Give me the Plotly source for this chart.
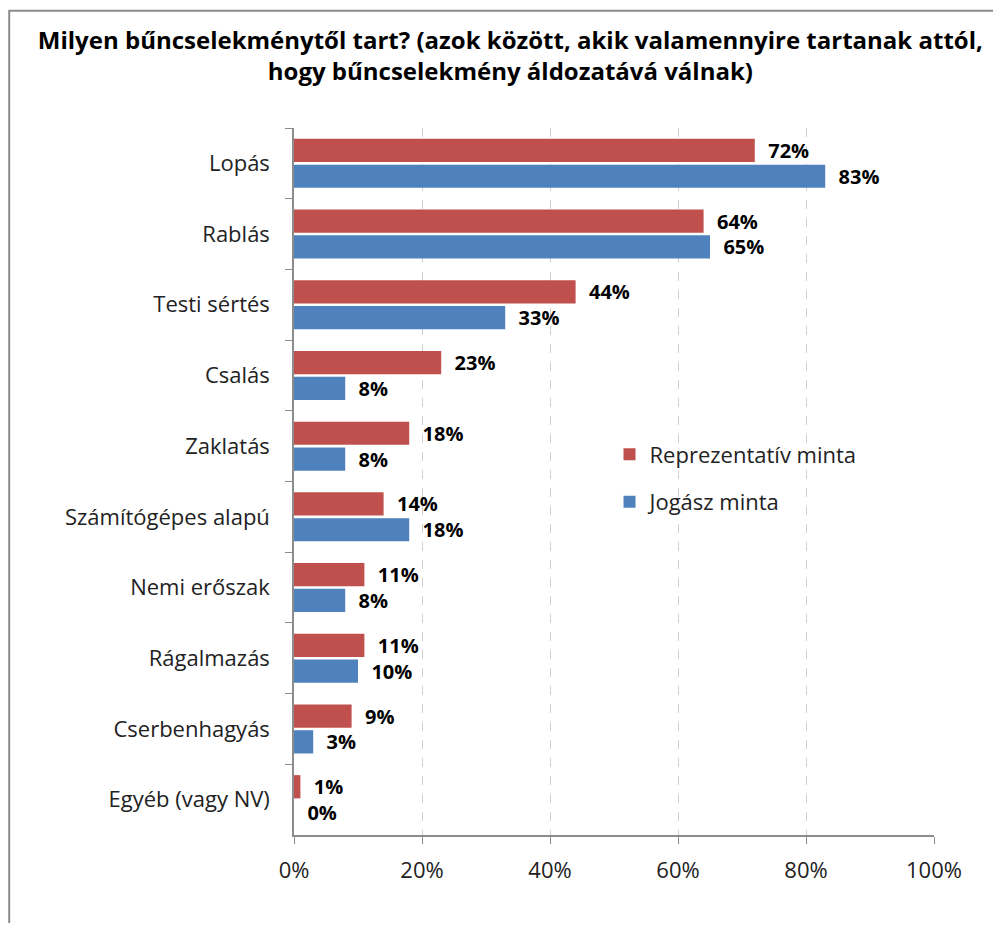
import plotly.graph_objects as go

categories = ["Lopás", "Rablás", "Testi sértés", "Csalás", "Zaklatás",
              "Számítógépes alapú", "Nemi erőszak", "Rágalmazás",
              "Cserbenhagyás", "Egyéb (vagy NV)"]
reprezentativ = [72, 64, 44, 23, 18, 14, 11, 11, 9, 1]
jogasz = [83, 65, 33, 8, 8, 18, 8, 10, 3, 0]

red = "#C0504D"
blue = "#4F81BD"
font_name = "Open Sans"
fs = 22

fig = go.Figure()
for name, vals, col, grp in [("Reprezentatív minta", reprezentativ, red, "a"),
                             ("Jogász minta", jogasz, blue, "b")]:
    fig.add_trace(go.Bar(
        y=categories, x=vals, orientation="h", name=name,
        marker=dict(color=col, line=dict(width=0)), legendgroup=grp,
        text=vals, texttemplate="\u00a0\u00a0%{text}%", textposition="outside",
        cliponaxis=False, constraintext="none",
        textfont=dict(family=font_name, size=20, color="black", weight="bold"),
    ))

fig.update_layout(
    width=985, height=915,
    margin=dict(l=286, r=59, t=120, b=88),
    paper_bgcolor="white", plot_bgcolor="white",
    barmode="group", bargap=0.27, bargroupgap=0.1,
    font=dict(family=font_name, size=fs, color="#222"),
    title=dict(
        text="Milyen bűncselekménytől tart? (azok között, akik valamennyire tartanak attól,<br>"
             "hogy bűncselekmény áldozatává válnak)",
        x=0.51, xanchor="center", yref="container", y=0.955, yanchor="middle",
        font=dict(family=font_name, size=24, color="black", weight="bold"),
    ),
    legend=dict(
        x=0.493, y=0.568, xanchor="left", yanchor="top",
        bgcolor="rgba(0,0,0,0)", traceorder="grouped", tracegroupgap=16,
        font=dict(family=font_name, size=fs, color="#222"),
    ),
    xaxis=dict(
        range=[0, 100], dtick=20, ticksuffix="%",
        showgrid=True, gridcolor="#D0D0D0", griddash="dash", gridwidth=1,
        showline=True, linecolor="#8C8C8C", linewidth=1.5,
        ticks="outside", ticklen=7, tickcolor="#8C8C8C", ticklabelstandoff=8,
        zeroline=False, tickfont=dict(size=fs, color="#222"),
    ),
    yaxis=dict(
        autorange="reversed", showline=True, linecolor="#8C8C8C", linewidth=1.5,
        ticks="outside", ticklen=7, tickcolor="#8C8C8C", tickson="boundaries",
        ticklabelstandoff=18, showgrid=False,
        tickfont=dict(size=fs, color="#222"),
    ),
    shapes=[dict(
        type="rect", xref="paper", yref="paper",
        x0=-0.445, x1=1.2, y0=-0.3, y1=1.166,
        line=dict(color="#8C8C8C", width=2), fillcolor="rgba(0,0,0,0)",
    )],
)

fig.write_html("out.html")
